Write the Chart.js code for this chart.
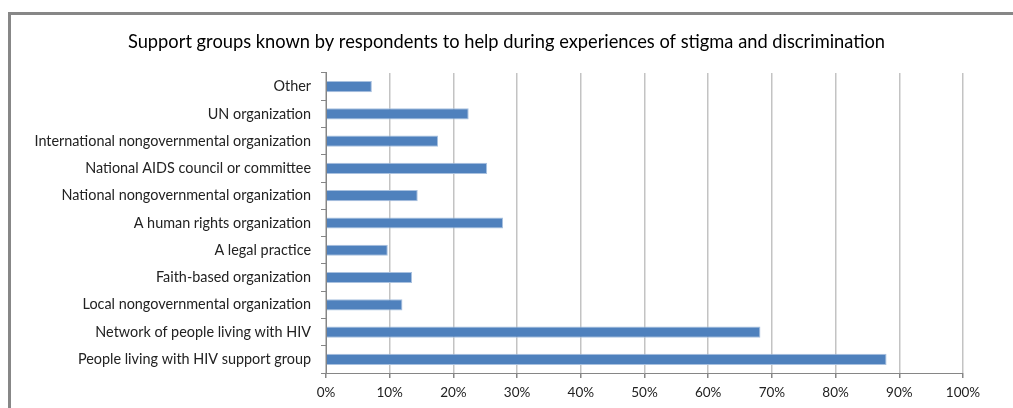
<!DOCTYPE html>
<html>
<head>
<meta charset="utf-8">
<script src="https://cdn.jsdelivr.net/npm/chart.js@4/dist/chart.umd.min.js"></script>
<style>
  html, body { margin: 0; padding: 0; background: #fff; overflow: hidden; }
  #frame {
    position: absolute; left: 8px; top: 12px; width: 1100px; height: 500px;
    border-top: 3px solid #878787; border-left: 3px solid #878787;
  }
  #wrap { position: absolute; left: 0; top: 0; width: 1013px; height: 408px; }
</style>
</head>
<body>
<div id="frame"></div>
<div id="wrap"><canvas id="chart"></canvas></div>
<script>
// ─── DATA ────────────────────────────────────────────
const categories = [
  'Other',
  'UN organization',
  'International nongovernmental organization',
  'National AIDS council or committee',
  'National nongovernmental organization',
  'A human rights organization',
  'A legal practice',
  'Faith-based organization',
  'Local nongovernmental organization',
  'Network of people living with HIV',
  'People living with HIV support group',
];
const shares = [7.2, 22.4, 17.6, 25.3, 14.4, 27.8, 9.7, 13.5, 12.0, 68.2, 88.0];
const xTicks = [0, 10, 20, 30, 40, 50, 60, 70, 80, 90, 100];

const TITLE = 'Support groups known by respondents to help during experiences of stigma and discrimination';
const FONT = 'Lato, Calibri, Carlito, sans-serif';

// ─── CHART ───────────────────────────────────────────
new Chart(document.getElementById('chart'), {
  type: 'bar',
  data: {
    labels: categories,
    datasets: [{
      data: shares,
      backgroundColor: '#4f81bd',
      borderColor: '#a9c1df',
      borderWidth: 1,
      categoryPercentage: 1,
      barPercentage: 0.41,
    }],
  },
  options: {
    indexAxis: 'y',
    responsive: true,
    maintainAspectRatio: false,
    animation: false,
    layout: { padding: 0 },
    plugins: {
      legend: { display: false },
      tooltip: { enabled: false },
      title: {
        display: true,
        text: TITLE,
        color: '#000',
        font: { family: FONT, size: 18.3, weight: 'normal' },
        padding: { top: 31, bottom: 20 },
        lineHeight: 1.2,
      },
    },
    scales: {
      x: {
        min: 0,
        max: 100,
        afterBuildTicks: (axis) => { axis.ticks = xTicks.map(v => ({ value: v })); },
        afterFit: (axis) => { axis.height = 35; },
        grid: {
          color: '#c3c3c3',
          lineWidth: 1.5,
          tickColor: '#868686',
          tickLength: 5,
        },
        border: { color: '#868686', width: 1 },
        ticks: {
          color: '#222',
          padding: 7,
          font: { family: FONT, size: 13.5 },
          callback: (v) => v + '%',
        },
      },
      y: {
        afterFit: (axis) => { axis.width = 326; },
        grid: {
          drawOnChartArea: false,
          tickColor: '#868686',
          tickLength: 5,
        },
        border: { color: '#868686', width: 1 },
        ticks: {
          color: '#222',
          padding: 10,
          autoSkip: false,
          font: { family: FONT, size: 14.4 },
        },
      },
      // empty spacer on the right so the title stays centred on the page
      spacer: {
        type: 'linear',
        position: 'right',
        afterFit: (axis) => { axis.width = 50; },
        grid: { display: false },
        border: { display: false },
        ticks: { display: false },
      },
    },
  },
});
</script>
</body>
</html>
